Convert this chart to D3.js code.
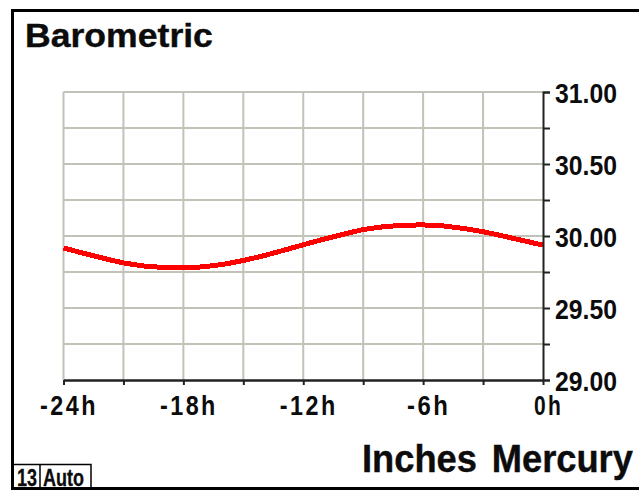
<!DOCTYPE html>
<html>
<head>
<meta charset="utf-8">
<script src="https://cdn.jsdelivr.net/npm/d3@7"></script>
<style>
  html, body { margin: 0; padding: 0; background: #fff; }
  svg { display: block; }
  text { font-family: "Liberation Sans", Arial, Helvetica, sans-serif; font-weight: bold; fill: #0c0c0c; }
</style>
</head>
<body>
<script>
// Barometric pressure over the last 24 hours, in inches of mercury
const hours = [-24, -23, -22, -21, -20, -19, -18, -17, -16, -15, -14, -13, -12,
               -11, -10, -9, -8, -7, -6, -5, -4, -3, -2, -1, 0];
const pressure = [29.917, 29.880, 29.845, 29.813, 29.792, 29.781, 29.778, 29.786, 29.803,
                  29.830, 29.862, 29.900, 29.939, 29.977, 30.012, 30.045, 30.064, 30.075,
                  30.077, 30.070, 30.053, 30.030, 30.000, 29.968, 29.937];

const hourTicks = [-24, -21, -18, -15, -12, -9, -6, -3, 0];
const hourLabels = ["-24h", "", "-18h", "", "-12h", "", "-6h", "", "0h"];
const pressureTicks = [29, 29.25, 29.5, 29.75, 30, 30.25, 30.5, 30.75, 31];
const pressureLabels = ["29.00", "", "29.50", "", "30.00", "", "30.50", "", "31.00"];

const title = "Barometric";
const unitsLabel = "Inches Mercury";
const statusBox = ["13", "Auto"];

const W = 639, H = 492;
const svg = d3.select("body").append("svg").attr("width", W).attr("height", H);

svg.append("rect").attr("width", W).attr("height", H).attr("fill", "#fff");

// Squeeze a text element horizontally so its drawn width equals w,
// keeping its anchor point where it was.
function fitWidth(node, w) {
  const natural = node.getComputedTextLength();
  if (!natural) return;
  const s = w / natural;
  const tx = +node.getAttribute("x") || 0;
  const ty = +node.getAttribute("y") || 0;
  node.setAttribute("x", 0);
  node.setAttribute("y", 0);
  const prev = node.getAttribute("transform") || "";
  node.setAttribute("transform", `${prev} translate(${tx},${ty}) scale(${s},1)`);
}

// outer frame (right edge runs off the display)
svg.append("rect")
  .attr("x", 12.5).attr("y", 10.5).attr("width", 640).attr("height", 478)
  .attr("fill", "none").attr("stroke", "#000").attr("stroke-width", 3);

const x = d3.scaleLinear().domain([-24, 0]).range([63.5, 543]);
const y = d3.scaleLinear().domain([29, 31]).range([380, 92]);

// grid
const grid = svg.append("g").attr("stroke", "#c2c2b8").attr("stroke-width", 2);
grid.selectAll("line.h").data(pressureTicks.slice(1)).join("line")
  .attr("x1", x(-24)).attr("x2", x(0))
  .attr("y1", d => y(d)).attr("y2", d => y(d));
grid.selectAll("line.v").data(hourTicks.slice(0, -1)).join("line")
  .attr("x1", d => x(d)).attr("x2", d => x(d))
  .attr("y1", y(31)).attr("y2", y(29));

// pressure trace
const line = d3.line().x((d, i) => x(hours[i])).y(d => y(d));
svg.append("path")
  .datum(pressure)
  .attr("d", line)
  .attr("fill", "none")
  .attr("stroke", "#ff0000")
  .attr("stroke-width", 5)
  .attr("shape-rendering", "crispEdges");

// right axis
const yAxis = d3.axisRight(y)
  .tickValues(pressureTicks)
  .tickSize(7)
  .tickPadding(5)
  .tickFormat((d, i) => pressureLabels[i]);
const gy = svg.append("g").attr("transform", `translate(${x(0)},0)`).call(yAxis);
gy.select(".domain").attr("stroke", "#222").attr("stroke-width", 2);
gy.selectAll(".tick line").attr("stroke", "#222").attr("stroke-width", 2);
gy.selectAll(".tick text")
  .attr("font-size", 28)
  .attr("dy", "0.37em")
  .attr("fill", "#0c0c0c")
  .attr("font-family", null)
  .each(function () { if (this.textContent) fitWidth(this, 62); });

// bottom axis
const xAxis = d3.axisBottom(x)
  .tickValues(hourTicks)
  .tickSize(5)
  .tickSizeOuter(0)
  .tickFormat((d, i) => hourLabels[i]);
const gx = svg.append("g").attr("transform", `translate(0,${y(29)})`).call(xAxis);
gx.select(".domain").attr("stroke", "#222").attr("stroke-width", 2.5);
gx.selectAll(".tick line").attr("stroke", "#222").attr("stroke-width", 2);
gx.selectAll(".tick text")
  .attr("font-size", 28)
  .attr("font-family", null)
  .attr("fill", "#0c0c0c")
  .attr("x", 5)
  .attr("y", 35)
  .attr("dy", 0)
  .attr("letter-spacing", 3)
  .each(function () {
    const n = this.textContent.length;
    if (n) fitWidth(this, 14.5 * n);
  });

// title
svg.append("text")
  .attr("x", 25).attr("y", 47)
  .attr("font-size", 34)
  .attr("stroke", "#0c0c0c").attr("stroke-width", 0.4)
  .text(title)
  .each(function () { fitWidth(this, 188); });

// units
svg.append("text")
  .attr("x", 362).attr("y", 472)
  .attr("font-size", 38)
  .attr("stroke", "#0c0c0c").attr("stroke-width", 0.4)
  .attr("word-spacing", 5)
  .text(unitsLabel)
  .each(function () { fitWidth(this, 271); });

// status box in the lower-left corner
const sb = svg.append("g");
sb.append("rect")
  .attr("x", 13).attr("y", 464.5).attr("width", 78).attr("height", 24)
  .attr("fill", "none").attr("stroke", "#000").attr("stroke-width", 1.5);
sb.append("line")
  .attr("x1", 40).attr("x2", 40).attr("y1", 464.5).attr("y2", 488)
  .attr("stroke", "#000").attr("stroke-width", 1.5);
sb.append("text").attr("x", 17).attr("y", 486).attr("font-size", 23)
  .attr("stroke", "#0c0c0c").attr("stroke-width", 0.3)
  .text(statusBox[0]).each(function () { fitWidth(this, 20); });
sb.append("text").attr("x", 43).attr("y", 486).attr("font-size", 23)
  .attr("stroke", "#0c0c0c").attr("stroke-width", 0.3)
  .text(statusBox[1]).each(function () { fitWidth(this, 41); });
</script>
</body>
</html>
